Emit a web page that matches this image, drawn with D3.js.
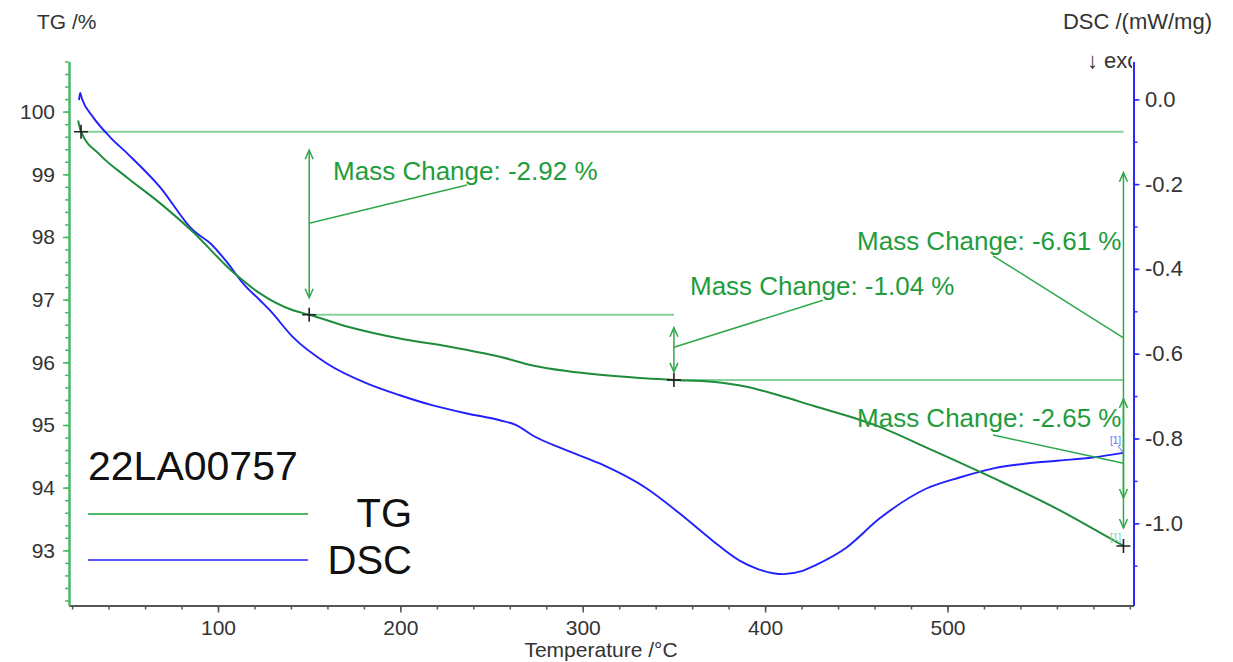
<!DOCTYPE html>
<html><head><meta charset="utf-8">
<script src="https://cdn.jsdelivr.net/npm/d3@7"></script>
<style>
body{margin:0;background:#fff}
svg{display:block}
text{font-family:"Liberation Sans",Arial,sans-serif}
</style>
</head><body>
<svg id="c" width="1233" height="662"></svg>
<script>
// ---- data ----
const tgT = [23.3, 24.9, 35.3, 50.1, 68.2, 86.3, 108.2, 123.0, 141.1, 150, 172.3, 199.7, 227.1, 254.5, 272.6, 291.2, 309.3, 331.2, 350, 371.2, 389.9, 407.9, 426.0, 450.1, 461.1, 488.5, 524.7, 561.4, 579.5, 596.5];
const tgV = [99.86, 99.68, 99.31, 98.95, 98.54, 98.08, 97.44, 97.10, 96.83, 96.76, 96.56, 96.38, 96.25, 96.09, 95.95, 95.86, 95.80, 95.75, 95.72, 95.69, 95.61, 95.47, 95.31, 95.10, 94.99, 94.64, 94.16, 93.64, 93.35, 93.07];
const dscT = [23.8, 24.4, 25.5, 31.5, 40.8, 50.1, 68.2, 86.3, 95.6, 104.9, 113.7, 123.0, 128.5, 141.1, 159.7, 181.6, 199.7, 217.8, 236.4, 254.5, 263.8, 272.6, 291.2, 309.3, 335.1, 353.2, 371.2, 386.0, 396, 410, 420, 428.0, 444.7, 462.7, 488.5, 506.6, 524.7, 543.3, 561.4, 579.5, 596.5];
const dscV = [-0.002, 0.015, 0.0, -0.042, -0.089, -0.127, -0.207, -0.309, -0.339, -0.384, -0.434, -0.474, -0.498, -0.561, -0.623, -0.670, -0.698, -0.722, -0.741, -0.757, -0.769, -0.793, -0.828, -0.859, -0.918, -0.977, -1.041, -1.088, -1.108, -1.12, -1.113, -1.098, -1.057, -0.989, -0.918, -0.892, -0.871, -0.859, -0.852, -0.845, -0.834];

const xTicks = [100, 200, 300, 400, 500];
const tgTicks = [93, 94, 95, 96, 97, 98, 99, 100];
const dscTicks = [0.0, -0.2, -0.4, -0.6, -0.8, -1.0];

// mass-change steps: markers
const stepT = [24.9, 150, 350, 596.5];
const stepV = [99.68, 96.76, 95.72, 93.07];
// horizontal reference lines [value, tStart, tEnd]
const refLines = [[99.68, 24.9, 596.5], [96.76, 150, 350], [95.72, 350, 596.5]];
// arrows: [t, fromValue, toValue]
const arrowT = [150, 350, 596.5, 596.5];
const arrowFrom = [99.68, 96.76, 99.68, 95.72];
const arrowTo = [96.76, 95.72, 93.07, 93.07];
const labels = ["Mass Change: -2.92 %", "Mass Change: -1.04 %", "Mass Change: -6.61 %", "Mass Change: -2.65 %"];
// leader lines (data coords [T, TG]) and label anchors
const leaderFrom = [[150, 98.22], [350, 96.24], [596.5, 96.39], [596.5, 94.39]];
const leaderTo = [[236.5, 98.83], [431.7, 96.99], [525.0, 97.70], [525.0, 94.84]];
const labelPos = [[163.1, 98.91], [358.8, 97.07], [450.4, 97.79], [450.4, 94.97]];

// ---- layout ----
const svg = d3.select("#c");
const x = d3.scaleLinear().domain([18.3, 602]).range([69, 1133.5]);
const yTG = d3.scaleLinear().domain([92.12, 100.8]).range([605.5, 61.5]);
const yDSC = d3.scaleLinear().domain([-1.194, 0.0892]).range([605.5, 61.5]);

const cAxisG = "#4cb866", cAxisB = "#2b2bff", cTG = "#1f8c3b", cDSC = "#2020ff";
const cRef = "#86d29a", cArrow = "#2fa84c", cText = "#1f9c3c";

// ---- axes ----
function styleAxis(g, color, fs) {
  g.select(".domain").attr("stroke", color).attr("stroke-width", 2);
  g.selectAll(".tick line").attr("stroke", color).attr("stroke-width", 1.5);
  g.selectAll(".tick text").attr("fill", "#333").style("font-size", fs + "px");
}
const gxMinor = svg.append("g").attr("transform", "translate(0,605.5)")
  .call(d3.axisBottom(x).tickValues(d3.range(20, 601, 20)).tickSize(4).tickFormat("").tickSizeOuter(0));
styleAxis(gxMinor, "#555", 21);
const gx = svg.append("g").attr("transform", "translate(0,605.5)")
  .call(d3.axisBottom(x).tickValues(xTicks).tickSize(7).tickPadding(7.5).tickSizeOuter(0));
styleAxis(gx, "#555", 21);

const gyMinor = svg.append("g").attr("transform", "translate(69,0)")
  .call(d3.axisLeft(yTG).tickValues(d3.range(92.2, 100.81, 0.2)).tickSize(4).tickFormat("").tickSizeOuter(0));
styleAxis(gyMinor, cAxisG, 21);
const gy = svg.append("g").attr("transform", "translate(69,0)")
  .call(d3.axisLeft(yTG).tickValues(tgTicks).tickSize(6).tickPadding(8).tickSizeOuter(0));
styleAxis(gy, cAxisG, 21);

const gy2Minor = svg.append("g").attr("transform", "translate(1133.5,0)")
  .call(d3.axisRight(yDSC).tickValues(d3.range(0, -1.15, -0.1)).tickSize(4).tickFormat("").tickSizeOuter(0));
styleAxis(gy2Minor, cAxisB, 21);
const gy2 = svg.append("g").attr("transform", "translate(1133.5,0)")
  .call(d3.axisRight(yDSC).tickValues(dscTicks).tickSize(6).tickPadding(5.5).tickSizeOuter(0)
    .tickFormat(d => (Math.abs(d) < 1e-9 ? "0.0" : d.toFixed(1))));
styleAxis(gy2, cAxisB, 22);

// axis titles
svg.append("text").attr("x", 37).attr("y", 29).attr("fill", "#333").style("font-size", "21px").text("TG /%");
svg.append("text").attr("x", 1212).attr("y", 29).attr("text-anchor", "end").attr("fill", "#333").style("font-size", "22px").text("DSC /(mW/mg)");
svg.append("defs").append("clipPath").attr("id", "exoclip").append("rect").attr("x", 1000).attr("y", 30).attr("width", 132).attr("height", 60);
svg.append("text").attr("x", 1087).attr("y", 68).attr("fill", "#333").attr("clip-path", "url(#exoclip)").style("font-size", "22px").text("↓ exo");
svg.append("text").attr("x", 601).attr("y", 657).attr("text-anchor", "middle").attr("fill", "#333").style("font-size", "21px").text("Temperature /°C");

// reference lines
refLines.forEach(r => {
  svg.append("line").attr("x1", x(r[1])).attr("x2", x(r[2])).attr("y1", yTG(r[0])).attr("y2", yTG(r[0]))
    .attr("stroke", cRef).attr("stroke-width", 2);
});

// curves
const tgData = tgT.map((t, i) => [t, tgV[i]]);
const dscData = dscT.map((t, i) => [t, dscV[i]]);
svg.append("path").datum(dscData).attr("fill", "none").attr("stroke", cDSC).attr("stroke-width", 1.9)
  .attr("d", d3.line().x(d => x(d[0])).y(d => yDSC(d[1])).curve(d3.curveMonotoneX));
svg.append("path").datum(tgData).attr("fill", "none").attr("stroke", cTG).attr("stroke-width", 2)
  .attr("d", d3.line().x(d => x(d[0])).y(d => yTG(d[1])).curve(d3.curveMonotoneX));

// arrows
const insets = [[18.5, 17], [13, 8], [41, 48], [19, 18]];
function head(px, py, dir) {
  svg.append("path").attr("d", `M${px - 4},${py + dir * 9}L${px},${py}L${px + 4},${py + dir * 9}`)
    .attr("fill", "none").attr("stroke", cArrow).attr("stroke-width", 1.5);
}
arrowT.forEach((t, i) => {
  const px = x(t), y1 = yTG(arrowFrom[i]) + insets[i][0], y2 = yTG(arrowTo[i]) - insets[i][1];
  svg.append("line").attr("x1", px).attr("x2", px).attr("y1", y1).attr("y2", y2).attr("stroke", cArrow).attr("stroke-width", 1.5);
  head(px, y1, 1); head(px, y2, -1);
});

// leader lines & labels
leaderFrom.forEach((p, i) => {
  svg.append("line").attr("x1", x(p[0])).attr("y1", yTG(p[1])).attr("x2", x(leaderTo[i][0])).attr("y2", yTG(leaderTo[i][1]))
    .attr("stroke", cArrow).attr("stroke-width", 1.5);
});
labels.forEach((s, i) => {
  svg.append("text").attr("x", x(labelPos[i][0])).attr("y", yTG(labelPos[i][1])).attr("fill", cText)
    .style("font-size", "26px").text(s);
});

// [1] marks
svg.append("text").attr("x", 1110).attr("y", 444).attr("fill", "#6a6aff").style("font-size", "10px").text("[1]");
svg.append("line").attr("x1", 1118).attr("y1", 446).attr("x2", x(596.5)).attr("y2", yDSC(-0.834)).attr("stroke", "#6a6aff").attr("stroke-width", 1);
svg.append("text").attr("x", 1110).attr("y", 541).attr("fill", "#7fd08f").style("font-size", "10px").text("[1]");

// markers
stepT.forEach((t, i) => {
  const px = x(t), py = yTG(stepV[i]);
  svg.append("path").attr("d", `M${px - 7},${py}H${px + 7}M${px},${py - 7}V${py + 7}`).attr("stroke", "#222").attr("stroke-width", 1.6);
});

// legend
svg.append("text").attr("x", 88).attr("y", 480).attr("fill", "#111").style("font-size", "41px").text("22LA00757");
svg.append("line").attr("x1", 88).attr("x2", 308).attr("y1", 514).attr("y2", 514).attr("stroke", cAxisG).attr("stroke-width", 2);
svg.append("line").attr("x1", 88).attr("x2", 308).attr("y1", 560).attr("y2", 560).attr("stroke", "#5858ff").attr("stroke-width", 2);
svg.append("text").attr("x", 412).attr("y", 527).attr("text-anchor", "end").attr("fill", "#111").style("font-size", "40px").text("TG");
svg.append("text").attr("x", 412).attr("y", 574).attr("text-anchor", "end").attr("fill", "#111").style("font-size", "40px").text("DSC");
</script>
</body></html>
